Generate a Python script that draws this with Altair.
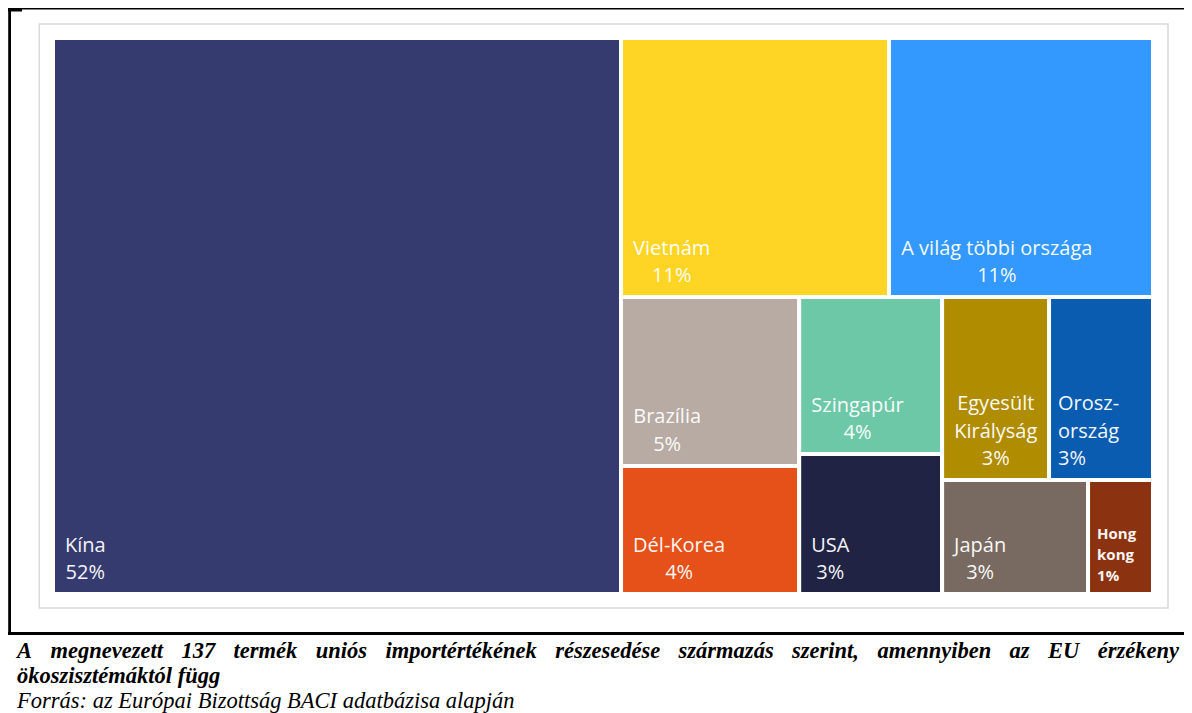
import altair as alt
import pandas as pd

# ---------------- data ----------------
names = ["Kína", "Vietnám", "A világ többi országa", "Brazília", "Dél-Korea",
         "Szingapúr", "USA", "Egyesült Királyság", "Orosz-ország", "Japán", "Hong kong"]
shares = [51.64, 11.35, 11.18, 4.92, 3.73, 3.67, 3.27, 3.20, 3.11, 2.72, 1.21]
pct_labels = ["52%", "11%", "11%", "5%", "4%", "4%", "3%", "3%", "3%", "3%", "1%"]
name_lines = [["Kína"], ["Vietnám"], ["A világ többi országa"], ["Brazília"], ["Dél-Korea"],
              ["Szingapúr"], ["USA"], ["Egyesült", "Királyság"], ["Orosz-", "ország"],
              ["Japán"], ["Hong", "kong"]]
colors = ["#353b6f", "#fed524", "#3399ff", "#b7aba3", "#e6511a", "#6dc8a8",
          "#212345", "#b08c00", "#0a5cb0", "#786a60", "#8b3211"]

caption_1 = ("A megnevezett 137 termék uniós importértékének részesedése "
             "származás szerint, amennyiben az EU érzékeny")
caption_2 = "ökoszisztémáktól függ"
source_line = "Forrás: az Európai Bizottság BACI adatbázisa alapján"

# ---------------- layout / style ----------------
W, H = 1176, 705
TM_X, TM_Y, TM_W, TM_H = 45, 30, 1100, 556
left_aligned = {"Orosz-ország", "Hong kong"}
small_labels = {"Hong kong"}


def worst(row, side):
    s = sum(row)
    return max(max(side * side * r / (s * s), s * s / (side * side * r)) for r in row)


def squarify(vals, x, y, w, h):
    out = []
    i = 0
    while i < len(vals):
        short = min(w, h)
        row = [vals[i]]
        j = i + 1
        while j < len(vals) and worst(row + [vals[j]], short) <= worst(row, short):
            row.append(vals[j])
            j += 1
        s = sum(row)
        if w >= h:
            cw = s / h
            yy = y
            for v in row:
                rh = v / cw
                out.append((x, yy, x + cw, yy + rh))
                yy += rh
            x += cw
            w -= cw
        else:
            rh = s / w
            xx = x
            for v in row:
                rw = v / rh
                out.append((xx, y, xx + rw, y + rh))
                xx += rw
            y += rh
            h -= rh
        i = j
    return out


total = sum(shares)
areas = [s / total * TM_W * TM_H for s in shares]
cells = squarify(areas, TM_X, TM_Y, TM_W, TM_H)

rect_df = pd.DataFrame({
    "name": names,
    "x0": [c[0] for c in cells], "y0": [c[1] for c in cells],
    "x1": [c[2] for c in cells], "y1": [c[3] for c in cells],
})

# approximate Open Sans advance widths (em)
OS = {"A": .633, "B": .648, "D": .735, "E": .556, "H": .738, "J": .267, "K": .604,
      "O": .78, "S": .549, "U": .729, "V": .592, "a": .556, "á": .556, "b": .613,
      "d": .613, "e": .561, "é": .561, "g": .546, "i": .258, "í": .258, "k": .529,
      "l": .258, "m": .934, "n": .614, "o": .602, "ö": .602, "p": .613, "r": .408,
      "s": .477, "t": .352, "u": .614, "ú": .614, "ü": .614, "y": .5, "z": .468,
      "v": .5, "-": .322, "%": .823, " ": .26}


def os_width(t, fs):
    return sum(OS.get(ch, .572) for ch in t) * fs


lab_rows = []
for i, nm in enumerate(names):
    x0, y0, x1, y1 = cells[i]
    lines = name_lines[i] + [pct_labels[i]]
    small = nm in small_labels
    fs = 15 if small else 20
    lh = 21 if small else 27.5
    yb = y1 - (13.5 if small else 15)
    if nm in left_aligned:
        kind = "s" if small else "l"
        ax = x0 + 9
    else:
        kind = "c"
        ax = x0 + 12 + max(os_width(t, fs) for t in lines) / 2
    n = len(lines)
    for k, t in enumerate(lines):
        lab_rows.append({"t": t, "lx": ax, "ly": yb - (n - 1 - k) * lh, "kind": kind})
lab_df = pd.DataFrame(lab_rows)

# Times Bold Italic advance widths (em) for justified caption line
TBI = {"A": .667, "E": .667, "U": .722, "a": .5, "á": .5, "b": .5, "c": .444, "d": .5,
       "e": .444, "é": .444, "f": .333, "g": .5, "h": .556, "i": .278, "k": .5, "l": .278,
       "m": .778, "n": .556, "o": .5, "ó": .5, "p": .5, "r": .389, "s": .389, "t": .278,
       "u": .556, "v": .444, "y": .444, "z": .389, ",": .25}
CAP_FS = 22.5
words = caption_1.split()
ww = [sum(TBI.get(ch, .5) for ch in w_) * CAP_FS for w_ in words]
cx0, cx1 = 9, 1171
gap = (cx1 - cx0 - sum(ww)) / (len(words) - 1)
cap_rows = []
pos = cx0
for w_, wd in zip(words, ww):
    cap_rows.append({"t": w_, "px": pos, "py": 650})
    pos += wd + gap
cap_rows.append({"t": caption_2, "px": cx0, "py": 675})
cap_df = pd.DataFrame(cap_rows)
src_df = pd.DataFrame([{"t": source_line, "px": cx0, "py": 700}])

XS = alt.Scale(domain=[0, W], range=[0, W], nice=False, zero=False)
YS = alt.Scale(domain=[0, H], range=[0, H], nice=False, zero=False)

one = pd.DataFrame({"k": [0]})

grey_box = alt.Chart(one).mark_rect(fill="white", stroke="#d9d9d9", strokeWidth=1.5).encode(
    x=alt.value(31.3), x2=alt.value(1160), y=alt.value(16), y2=alt.value(600))

rects = alt.Chart(rect_df).mark_rect(stroke="white", strokeWidth=4).encode(
    x=alt.X("x0:Q", scale=XS, axis=None), x2="x1:Q",
    y=alt.Y("y0:Q", scale=YS, axis=None), y2="y1:Q",
    color=alt.Color("name:N", scale=alt.Scale(domain=names, range=colors), legend=None),
)


def label_layer(kind, align, fs, weight):
    return alt.Chart(lab_df).transform_filter(alt.datum.kind == kind).mark_text(
        align=align, baseline="alphabetic", font="Open Sans", fontSize=fs,
        fontWeight=weight, color="white", opacity=0.95,
    ).encode(
        x=alt.X("lx:Q", scale=XS, axis=None), y=alt.Y("ly:Q", scale=YS, axis=None), text="t:N")


lab_c = label_layer("c", "center", 20, "normal")
lab_l = label_layer("l", "left", 20, "normal")
lab_s = label_layer("s", "left", 15, "bold")

cap = alt.Chart(cap_df).mark_text(
    align="left", baseline="alphabetic", font="Liberation Serif", fontSize=CAP_FS,
    fontStyle="italic", fontWeight="bold", color="black",
).encode(x=alt.X("px:Q", scale=XS, axis=None), y=alt.Y("py:Q", scale=YS, axis=None), text="t:N")

src = alt.Chart(src_df).mark_text(
    align="left", baseline="alphabetic", font="Liberation Serif", fontSize=CAP_FS,
    fontStyle="italic", fontWeight="normal", color="black",
).encode(x=alt.X("px:Q", scale=XS, axis=None), y=alt.Y("py:Q", scale=YS, axis=None), text="t:N")

top_rule = alt.Chart(one).mark_rule(color="black", strokeWidth=1.6).encode(
    x=alt.value(0), x2=alt.value(W), y=alt.value(0.8))
corner_rule = alt.Chart(one).mark_rule(color="black", strokeWidth=3).encode(
    x=alt.value(0), x2=alt.value(14), y=alt.value(2))
left_rule = alt.Chart(one).mark_rule(color="black", strokeWidth=2.8).encode(
    x=alt.value(1.6), y=alt.value(0), y2=alt.value(627))
bottom_rule = alt.Chart(one).mark_rule(color="black", strokeWidth=3).encode(
    x=alt.value(0), x2=alt.value(W), y=alt.value(625.5))

chart = alt.layer(
    grey_box, rects, lab_c, lab_l, lab_s, cap, src,
    top_rule, corner_rule, left_rule, bottom_rule,
).properties(
    width=W, height=H, padding=0, autosize=alt.AutoSizeParams(type="none"),
    background="white",
).configure_view(stroke=None)

chart.save("out.html", embed_options={"renderer": "svg", "actions": False})
